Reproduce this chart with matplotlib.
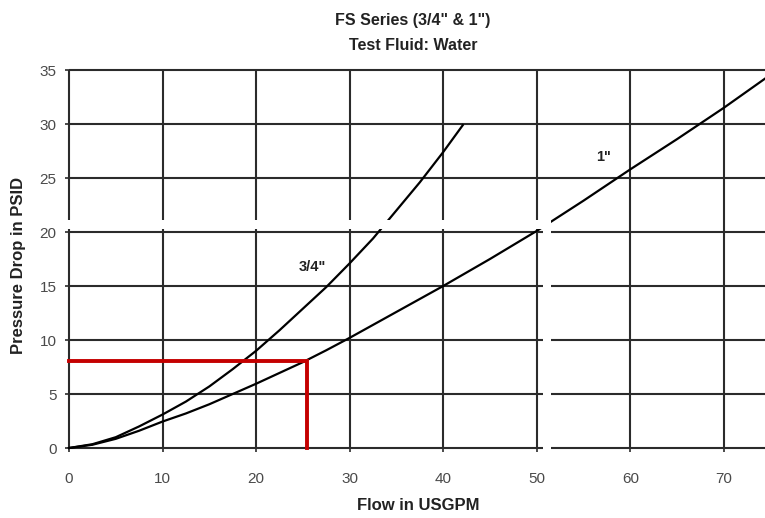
import matplotlib
matplotlib.use("Agg")
import matplotlib.pyplot as plt
from matplotlib.patches import Rectangle

plt.rcParams['font.family'] = ['Liberation Sans Narrow', 'Liberation Sans', 'DejaVu Sans']

# Pressure drop curves (flow in USGPM, pressure drop in PSID)
flow_34 = [0, 2.5, 5, 7.5, 10, 12.5, 15, 17.5, 20, 22.5, 25, 27.5, 30, 32.5, 35, 37.5, 40, 42.1]
drop_34 = [0, 0.35, 1.0, 2.0, 3.1, 4.3, 5.7, 7.3, 9.0, 10.9, 12.9, 14.9, 17.1, 19.4, 22.0, 24.6, 27.4, 29.9]

flow_1 = [0, 2.5, 5, 7.5, 10, 12.5, 15, 17.5, 20, 22.5, 25, 27.5, 30, 32.5, 35, 37.5, 40,
          42.5, 45, 47.5, 50, 52.5, 55, 57.5, 60, 62.5, 65, 67.5, 70, 74.4]
drop_1 = [0, 0.3, 0.85, 1.6, 2.45, 3.2, 4.05, 5.0, 5.95, 6.95, 7.95, 9.05, 10.2, 11.4, 12.6, 13.8, 15.0,
          16.25, 17.5, 18.8, 20.1, 21.5, 22.9, 24.35, 25.8, 27.2, 28.6, 30.05, 31.5, 34.2]

# Operating point marked in red
op_flow = 25.4
op_drop = 8.1

x_ticks = [0, 10, 20, 30, 40, 50, 60, 70]
y_ticks = [0, 5, 10, 15, 20, 25, 30, 35]
x_max = 74.4
y_max = 35

fig = plt.figure(figsize=(7.65, 5.18), dpi=100)
ax = fig.add_axes([69 / 765, 70 / 518, 696 / 765, 378 / 518])
ax.set_xlim(0, x_max)
ax.set_ylim(0, y_max)
for s in ax.spines.values():
    s.set_visible(False)

grid_color = '#2b2b2b'
ax.vlines(x_ticks, 0, y_max, colors=grid_color, lw=1.5, clip_on=False, zorder=1)
ax.hlines(y_ticks, 0, x_max, colors=grid_color, lw=1.5, clip_on=False, zorder=1)

ax.plot(flow_34, drop_34, color='black', lw=1.6, zorder=3, clip_on=False, solid_joinstyle='round')
ax.plot(flow_1, drop_1, color='black', lw=1.6, zorder=3, clip_on=False, solid_joinstyle='round')

ax.plot([0, op_flow, op_flow], [op_drop, op_drop, 0], color='#c40000', lw=2.8,
        zorder=4, clip_on=False, solid_joinstyle='miter')

# Breaks between the chart panels
ax.add_patch(Rectangle((-1.0, 20.3), 52.5, 0.8, facecolor='white', edgecolor='none',
                       zorder=5, clip_on=False))
ax.add_patch(Rectangle((50.7, -0.3), 0.8, 21.4, facecolor='white', edgecolor='none',
                       zorder=5, clip_on=False))

ax.set_xticks(x_ticks)
ax.set_yticks(y_ticks)
ax.tick_params(axis='both', direction='inout', length=6, width=1.2, color=grid_color,
               labelcolor='#4a4a4a', labelsize=11)
ax.tick_params(axis='x', pad=14)
ax.tick_params(axis='y', pad=6)

ax.text(26.0, 16.8, '3/4"', fontsize=10.5, fontweight='bold', ha='center', va='center', color='#222222')
ax.text(57.1, 26.9, '1"', fontsize=10.5, fontweight='bold', ha='center', va='center', color='#222222')

fig.text(413 / 765, 1 - 20 / 518, 'FS Series (3/4" & 1")', fontsize=11.5, fontweight='bold',
         ha='center', va='center', color='#222222')
fig.text(413 / 765, 1 - 45 / 518, 'Test Fluid: Water', fontsize=11.5, fontweight='bold',
         ha='center', va='center', color='#222222')
fig.text(418 / 765, 1 - 506 / 518, 'Flow in USGPM', fontsize=12, fontweight='bold',
         ha='center', va='center', color='#222222')
fig.text(19 / 765, 1 - 265 / 518, 'Pressure Drop in PSID', fontsize=12, fontweight='bold',
         ha='center', va='center', rotation=90, color='#222222')

fig.savefig('out.png', dpi=100)
